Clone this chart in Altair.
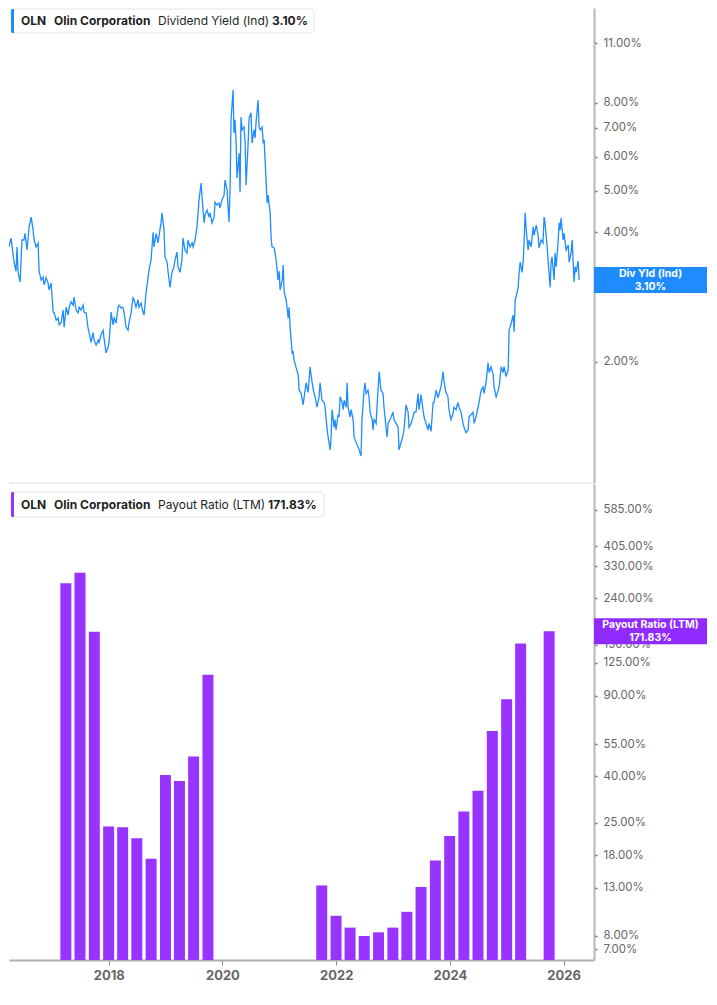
import altair as alt
import pandas as pd

# ---------------- data ----------------
# Dividend yield (Ind), in %, with dates as decimal years
yield_years = [
    2016.197, 2016.214, 2016.232, 2016.249, 2016.266, 2016.283, 2016.301, 2016.335, 2016.370, 2016.404,
    2016.422, 2016.456, 2016.474, 2016.491, 2016.526, 2016.560, 2016.595, 2016.612, 2016.647, 2016.681,
    2016.716, 2016.750, 2016.768, 2016.802, 2016.837, 2016.854, 2016.889, 2016.923, 2016.940, 2016.975,
    2017.010, 2017.027, 2017.061, 2017.096, 2017.113, 2017.148, 2017.182, 2017.200, 2017.234, 2017.269,
    2017.286, 2017.321, 2017.355, 2017.373, 2017.407, 2017.442, 2017.459, 2017.494, 2017.528, 2017.546,
    2017.580, 2017.615, 2017.632, 2017.667, 2017.701, 2017.718, 2017.753, 2017.788, 2017.805, 2017.839,
    2017.874, 2017.891, 2017.926, 2017.960, 2017.978, 2018.012, 2018.047, 2018.064, 2018.099, 2018.133,
    2018.151, 2018.185, 2018.220, 2018.237, 2018.272, 2018.306, 2018.324, 2018.358, 2018.393, 2018.410,
    2018.445, 2018.479, 2018.496, 2018.531, 2018.566, 2018.583, 2018.618, 2018.652, 2018.669, 2018.704,
    2018.738, 2018.756, 2018.790, 2018.825, 2018.842, 2018.877, 2018.911, 2018.929, 2018.963, 2018.980,
    2019.015, 2019.032, 2019.067, 2019.084, 2019.119, 2019.153, 2019.188, 2019.205, 2019.240, 2019.257,
    2019.292, 2019.326, 2019.344, 2019.378, 2019.413, 2019.430, 2019.465, 2019.499, 2019.516, 2019.551,
    2019.586, 2019.603, 2019.620, 2019.655, 2019.672, 2019.707, 2019.724, 2019.759, 2019.793, 2019.810,
    2019.845, 2019.880, 2019.897, 2019.931, 2019.966, 2019.983, 2020.018, 2020.053, 2020.070, 2020.104,
    2020.139, 2020.156, 2020.174, 2020.208, 2020.225, 2020.243, 2020.260, 2020.277, 2020.312, 2020.329,
    2020.346, 2020.364, 2020.398, 2020.416, 2020.433, 2020.467, 2020.485, 2020.519, 2020.537, 2020.571,
    2020.588, 2020.606, 2020.640, 2020.658, 2020.675, 2020.709, 2020.727, 2020.744, 2020.779, 2020.796,
    2020.813, 2020.848, 2020.865, 2020.882, 2020.917, 2020.934, 2020.951, 2020.986, 2021.003, 2021.021,
    2021.055, 2021.073, 2021.090, 2021.124, 2021.159, 2021.176, 2021.194, 2021.228, 2021.245, 2021.263,
    2021.297, 2021.332, 2021.349, 2021.384, 2021.418, 2021.436, 2021.470, 2021.505, 2021.539, 2021.574,
    2021.608, 2021.626, 2021.660, 2021.695, 2021.712, 2021.747, 2021.781, 2021.799, 2021.833, 2021.850,
    2021.885, 2021.902, 2021.920, 2021.954, 2021.972, 2021.989, 2022.023, 2022.041, 2022.058, 2022.093,
    2022.110, 2022.127, 2022.162, 2022.179, 2022.197, 2022.231, 2022.248, 2022.283, 2022.300, 2022.335,
    2022.369, 2022.387, 2022.421, 2022.438, 2022.473, 2022.490, 2022.508, 2022.542, 2022.559, 2022.577,
    2022.611, 2022.629, 2022.646, 2022.680, 2022.715, 2022.732, 2022.767, 2022.801, 2022.819, 2022.853,
    2022.870, 2022.888, 2022.922, 2022.940, 2022.974, 2022.991, 2023.026, 2023.061, 2023.078, 2023.113,
    2023.147, 2023.164, 2023.199, 2023.234, 2023.251, 2023.285, 2023.320, 2023.337, 2023.372, 2023.406,
    2023.424, 2023.458, 2023.493, 2023.510, 2023.545, 2023.579, 2023.596, 2023.631, 2023.666, 2023.683,
    2023.718, 2023.752, 2023.770, 2023.804, 2023.839, 2023.856, 2023.890, 2023.925, 2023.942, 2023.977,
    2024.011, 2024.029, 2024.064, 2024.098, 2024.115, 2024.150, 2024.184, 2024.202, 2024.236, 2024.271,
    2024.288, 2024.323, 2024.357, 2024.375, 2024.409, 2024.444, 2024.461, 2024.496, 2024.530, 2024.548,
    2024.582, 2024.617, 2024.634, 2024.669, 2024.703, 2024.720, 2024.755, 2024.790, 2024.807, 2024.842,
    2024.876, 2024.893, 2024.928, 2024.963, 2024.980, 2024.997, 2025.014, 2025.049, 2025.066, 2025.084,
    2025.101, 2025.135, 2025.153, 2025.170, 2025.205, 2025.222, 2025.239, 2025.257, 2025.274, 2025.308,
    2025.326, 2025.360, 2025.395, 2025.412, 2025.447, 2025.481, 2025.498, 2025.533, 2025.567, 2025.585,
    2025.602, 2025.637, 2025.654, 2025.688, 2025.706, 2025.723, 2025.758, 2025.775, 2025.792, 2025.827,
    2025.844, 2025.861, 2025.879, 2025.913, 2025.931, 2025.965, 2026.000, 2026.017, 2026.052, 2026.069,
    2026.104, 2026.121, 2026.138, 2026.173, 2026.190,
]
yield_values = [
    5.07, 4.88, 4.68, 4.71, 4.51, 4.05, 3.64, 3.70, 3.88, 3.58,
    3.41, 3.25, 3.70, 3.23, 3.07, 3.84, 3.84, 3.98, 3.64, 4.12,
    4.34, 4.05, 3.84, 3.70, 3.78, 3.25, 3.10, 3.15, 3.02, 3.14,
    3.05, 2.94, 3.05, 2.61, 2.60, 2.50, 2.53, 2.44, 2.47, 2.64,
    2.41, 2.68, 2.57, 2.68, 2.76, 2.71, 2.83, 2.64, 2.60, 2.68,
    2.64, 2.71, 2.61, 2.60, 2.40, 2.34, 2.22, 2.34, 2.25, 2.19,
    2.25, 2.22, 2.31, 2.37, 2.27, 2.10, 2.17, 2.22, 2.61, 2.44,
    2.54, 2.46, 2.68, 2.71, 2.67, 2.68, 2.60, 2.41, 2.37, 2.47,
    2.60, 2.82, 2.79, 2.68, 2.79, 2.68, 2.74, 2.61, 2.57, 2.89,
    3.14, 3.27, 3.45, 4.00, 3.70, 3.98, 3.78, 3.94, 4.21, 4.44,
    4.05, 3.51, 3.41, 3.25, 2.98, 3.23, 3.33, 3.45, 3.60, 3.33,
    3.23, 3.45, 3.88, 3.64, 3.58, 3.84, 3.70, 3.78, 3.70, 3.84,
    4.12, 4.44, 4.76, 5.21, 4.83, 4.21, 4.39, 4.51, 4.34, 4.44,
    4.21, 4.34, 4.70, 4.63, 4.68, 4.56, 4.76, 4.88, 5.29, 5.02,
    4.23, 5.02, 7.30, 8.56, 6.81, 7.30, 6.45, 5.35, 6.11, 4.96,
    7.41, 6.92, 7.03, 6.45, 5.15, 6.31, 7.37, 7.58, 6.45, 6.92,
    6.63, 7.22, 8.12, 7.03, 6.92, 7.03, 6.49, 6.56, 5.21, 4.68,
    4.88, 4.44, 3.90, 3.70, 3.68, 3.58, 3.45, 3.10, 3.25, 2.94,
    3.10, 3.36, 2.91, 2.79, 2.53, 2.68, 2.41, 2.10, 2.11, 2.02,
    1.94, 1.87, 1.72, 1.69, 1.59, 1.66, 1.79, 1.70, 1.95, 1.79,
    1.69, 1.66, 1.57, 1.66, 1.79, 1.63, 1.61, 1.57, 1.39, 1.34,
    1.25, 1.34, 1.55, 1.41, 1.47, 1.39, 1.51, 1.49, 1.66, 1.61,
    1.55, 1.63, 1.57, 1.79, 1.57, 1.49, 1.55, 1.47, 1.34, 1.30,
    1.27, 1.25, 1.21, 1.47, 1.72, 1.79, 1.69, 1.72, 1.65, 1.53,
    1.47, 1.39, 1.47, 1.44, 1.72, 1.90, 1.72, 1.69, 1.57, 1.41,
    1.34, 1.44, 1.47, 1.49, 1.53, 1.47, 1.44, 1.41, 1.25, 1.30,
    1.35, 1.39, 1.59, 1.53, 1.41, 1.44, 1.49, 1.53, 1.53, 1.69,
    1.55, 1.68, 1.55, 1.49, 1.44, 1.39, 1.44, 1.38, 1.61, 1.61,
    1.72, 1.65, 1.69, 1.75, 1.90, 1.80, 1.70, 1.66, 1.55, 1.47,
    1.52, 1.57, 1.55, 1.61, 1.57, 1.53, 1.44, 1.41, 1.37, 1.39,
    1.49, 1.51, 1.53, 1.44, 1.49, 1.57, 1.61, 1.72, 1.75, 1.69,
    1.80, 1.99, 1.89, 1.95, 1.87, 1.75, 1.66, 1.72, 1.75, 1.95,
    1.89, 1.95, 1.85, 1.92, 2.37, 2.41, 2.46, 2.57, 2.35, 2.79,
    2.83, 2.98, 3.23, 3.41, 3.23, 3.43, 3.84, 4.44, 4.05, 3.64,
    3.84, 3.70, 4.12, 3.94, 4.16, 3.94, 3.68, 3.84, 3.78, 4.34,
    4.21, 3.70, 3.45, 2.98, 3.41, 3.51, 3.10, 3.58, 3.33, 3.78,
    4.21, 4.05, 4.32, 3.84, 3.98, 3.64, 3.74, 3.41, 3.58, 3.84,
    3.07, 3.33, 3.23, 3.43, 3.10,
]

# Payout ratio (LTM), in %, quarterly
payout_dates = [
    "2017-03-31", "2017-06-30", "2017-09-30", "2017-12-31", "2018-03-31", "2018-06-30",
    "2018-09-30", "2018-12-31", "2019-03-31", "2019-06-30", "2019-09-30",
    "2021-09-30", "2021-12-31", "2022-03-31", "2022-06-30", "2022-09-30", "2022-12-31",
    "2023-03-31", "2023-06-30", "2023-09-30", "2023-12-31", "2024-03-31", "2024-06-30",
    "2024-09-30", "2024-12-31", "2025-03-31", "2025-09-30",
]
payout_values = [
    278.6, 310.0, 171.0, 24.1, 23.9, 21.4, 17.4, 40.4, 38.1, 48.7, 110.8,
    13.3, 9.8, 8.7, 8.0, 8.3, 8.7, 10.2, 13.1, 17.1, 21.9, 28.0, 34.5, 63.0, 86.7, 152.0, 171.83,
]

yield_ticks = [2, 3, 4, 5, 6, 7, 8, 11]
payout_ticks = [7, 8, 13, 18, 25, 40, 55, 90, 125, 150, 240, 330, 405, 585]
year_ticks = [2018, 2020, 2022, 2024, 2026]

ticker = "OLN"
company = "Olin Corporation"
yield_name = "Dividend Yield (Ind)"
payout_name = "Payout Ratio (LTM)"
yield_short = "Div Yld (Ind)"


def to_date(y):
    yr = int(y)
    start = pd.Timestamp(yr, 1, 1)
    length = (pd.Timestamp(yr + 1, 1, 1) - start).days
    return (start + pd.Timedelta(days=(y - yr) * length)).strftime("%Y-%m-%d")


X_START = to_date(2016.335)
X_END = to_date(2026.449)

df_yield = pd.DataFrame({"date": [to_date(y) for y in yield_years], "value": yield_values})
df_pay = pd.DataFrame({"date": payout_dates, "value": payout_values})
last_yield = pd.DataFrame({"value": [yield_values[-1]]})
last_pay = pd.DataFrame({"value": [payout_values[-1]]})
one = pd.DataFrame({"a": [0]})

# ---------------- styling ----------------
W = 585
BOXW = 113
H1 = 475
H2 = 476
BLUE = "#1e8cff"
PURPLE = "#9933ff"
PURPLE_BOX = "#8f2bff"
FONT = "Inter"

x_scale = alt.Scale(domain=[X_START, X_END])
y1_scale = alt.Scale(type="log", domain=[1.047, 13.28], nice=False, zero=False)
y2_scale = alt.Scale(type="log", domain=[6.28, 756.8], nice=False, zero=False)

label_expr = "format(datum.value, '.2f') + '%'"


def y_axis(values):
    return alt.Axis(
        orient="right", values=values, labelExpr=label_expr, title=None, grid=False,
        domainColor="#b8b8b8", domainWidth=2, tickColor="#777777", tickSize=3, tickWidth=1.5,
        labelPadding=6, labelFont=FONT, labelFontSize=11.5, labelColor="#666666",
    )


AX1 = y_axis(yield_ticks)
AX2 = y_axis(payout_ticks)


def header(y0, y1, x_right, color, parts):
    layers = [
        alt.Chart(one).mark_rect(fill="white", stroke="#e4e4e4", strokeWidth=1, cornerRadius=4).encode(
            x=alt.value(2), x2=alt.value(x_right), y=alt.value(y0), y2=alt.value(y1)
        ),
        alt.Chart(one).mark_rect(fill=color, cornerRadiusTopLeft=3, cornerRadiusBottomLeft=3).encode(
            x=alt.value(2), x2=alt.value(5), y=alt.value(y0), y2=alt.value(y1)
        ),
    ]
    yc = (y0 + y1) / 2
    for xp, txt, weight in parts:
        layers.append(
            alt.Chart(one).mark_text(
                align="left", baseline="middle", font=FONT, fontSize=12, fontWeight=weight, color="#1f1f1f"
            ).encode(x=alt.value(xp), y=alt.value(yc), text=alt.value(txt))
        )
    return layers


def value_box(df, scale, axis, color, line1, line2):
    yenc = alt.Y("value:Q", scale=scale, axis=axis)
    return [
        alt.Chart(df).mark_tick(orient="horizontal", thickness=26, size=BOXW, color=color, opacity=1).encode(
            x=alt.value(W + BOXW / 2), y=yenc
        ),
        alt.Chart(df).mark_text(color="white", font=FONT, fontSize=10.5, fontWeight="bold", dy=-6.5).encode(
            x=alt.value(W + BOXW / 2), y=yenc, text=alt.value(line1)
        ),
        alt.Chart(df).mark_text(color="white", font=FONT, fontSize=10.5, fontWeight="bold", dy=6.5).encode(
            x=alt.value(W + BOXW / 2), y=yenc, text=alt.value(line2)
        ),
    ]


# ---------------- top panel: dividend yield ----------------
line = alt.Chart(df_yield).transform_filter(
    f"toDate(datum.date) >= toDate('{X_START}')"
).mark_line(color=BLUE, strokeWidth=1.3, clip=True).encode(
    x=alt.X("date:T", scale=x_scale, axis=None),
    y=alt.Y("value:Q", scale=y1_scale, axis=AX1),
)
sep = alt.Chart(one).mark_rule(color="#dcdcdc", strokeWidth=1).encode(
    x=alt.value(0), x2=alt.value(W), y=alt.value(H1)
)
yield_txt = f"{yield_values[-1]:.2f}%"
top = alt.layer(
    line, sep,
    *header(1, 25, 305, BLUE, [(12, ticker, "bold"), (45, company, "bold"),
                               (149, yield_name, "normal"), (263, yield_txt, "bold")]),
    *value_box(last_yield, y1_scale, AX1, BLUE, yield_short, yield_txt),
).properties(width=W, height=H1)

# ---------------- bottom panel: payout ratio ----------------
bars = alt.Chart(df_pay).mark_bar(color=PURPLE, size=11, opacity=1).encode(
    x=alt.X(
        "date:T", scale=x_scale,
        axis=alt.Axis(
            values=[alt.DateTime(year=y, month=1, date=1) for y in year_ticks], format="%Y", title=None,
            grid=False, domainColor="#b0b0b0", domainWidth=2, tickColor="#888888", tickSize=5,
            labelPadding=4, labelFont=FONT, labelFontSize=13, labelFontWeight="bold", labelColor="#666666",
        ),
    ),
    y=alt.Y("value:Q", scale=y2_scale, stack=None, axis=AX2),
    y2=alt.value(H2),
)
pay_txt = f"{payout_values[-1]:.2f}%"
bottom = alt.layer(
    bars,
    *header(8, 33, 315, PURPLE, [(12, ticker, "bold"), (45, company, "bold"),
                                 (149, payout_name, "normal"), (259, pay_txt, "bold")]),
    *value_box(last_pay, y2_scale, AX2, PURPLE_BOX, payout_name, pay_txt),
).properties(width=W, height=H2)

chart = alt.vconcat(top, bottom, spacing=0).properties(
    padding=0, background="white"
).configure_view(stroke=None)

chart.save("out.html", embed_options={"renderer": "svg", "actions": False})
